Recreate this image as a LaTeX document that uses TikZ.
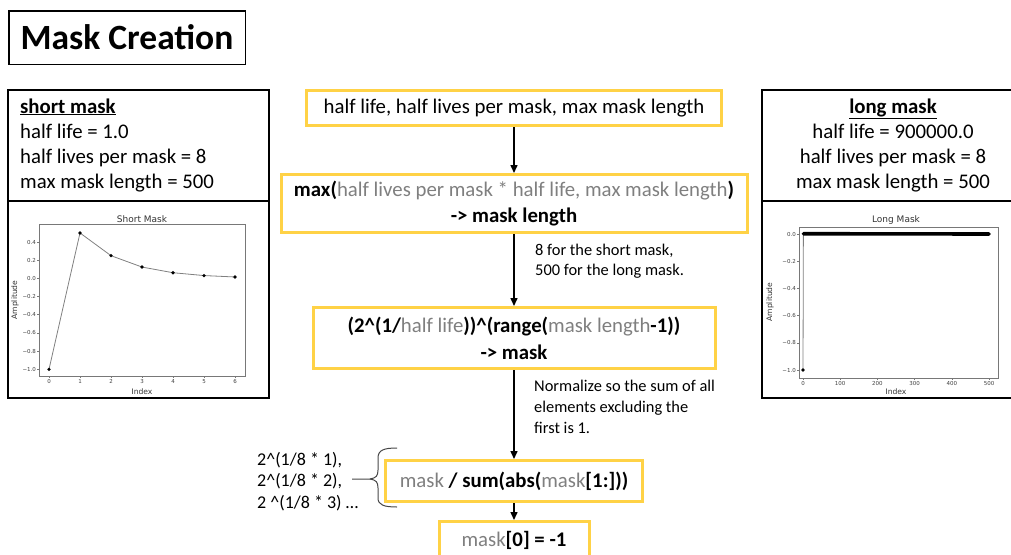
\documentclass[tikz,border=0pt]{standalone}
\usepackage{fontspec}
\setmainfont{Carlito}
\newfontfamily\plotfont{DejaVu Sans}
\usetikzlibrary{arrows.meta}

\definecolor{boxgold}{RGB}{255,210,70}
\definecolor{softgray}{RGB}{127,127,127}
\definecolor{axisgray}{RGB}{120,120,120}
\definecolor{bracegray}{RGB}{70,70,70}

\newcommand{\bodysize}{\fontsize{20.8}{25}\selectfont}
\newcommand{\notesize}{\fontsize{16.4}{20}\selectfont}
\newcommand{\bracesize}{\fontsize{18}{21}\selectfont}
\newcommand{\sg}[1]{{\color{softgray}\mdseries #1}}

\begin{document}
\begin{tikzpicture}[x=1pt,y=-1pt,
  goldbox/.style={draw=boxgold, line width=3pt, inner sep=0pt, align=center, font=\bodysize},
  blackframe/.style={draw=black, line width=1.5pt},
  flowarrow/.style={draw=black, line width=1.5pt, -{Triangle[length=8pt,width=7pt]}},
  notetext/.style={anchor=base west, inner sep=0pt, font=\notesize},
  paramline/.style={inner sep=0pt, font=\bodysize},
  axisline/.style={draw=axisgray, line width=0.6pt},
  ticklabel/.style={inner sep=0pt, text=black!75, font=\plotfont\fontsize{5.5}{6}\selectfont},
  axislabel/.style={inner sep=0pt, text=black!80, font=\plotfont\fontsize{7.6}{8}\selectfont},
  plottitle/.style={inner sep=0pt, text=black!80, font=\plotfont\fontsize{9}{10}\selectfont},
  dataline/.style={draw=gray, line width=0.8pt}
]
\useasboundingbox (0,0) rectangle (1011,554);
\clip (0,0) rectangle (1011,554);

% title
\node[blackframe, inner sep=0pt, minimum width=236.5pt, minimum height=53.5pt,
      font=\fontsize{35.5}{40}\selectfont\bfseries] (title) at (127,37.5) {Mask Creation};

% ---------- short mask panel ----------
\draw[blackframe] (8,90) rectangle (269,201);
\draw[blackframe] (8,201) rectangle (269,398);
\node[paramline, anchor=base west] (s0) at (20,113) {\textbf{\underline{short mask}}};
\node[paramline, anchor=base west] (s1) at (20,138) {half life = 1.0};
\node[paramline, anchor=base west] (s2) at (20,163) {half lives per mask = 8};
\node[paramline, anchor=base west] (s3) at (20,188) {max mask length = 500};

\node[plottitle, anchor=south] (stitle) at (142,222.5) {Short Mask};
\node[axislabel, rotate=90] (sylab) at (15,300) {Amplitude};
\node[axislabel] (sxlab) at (142,391.5) {Index};
\begin{scope}[shift={(49,278.4)}, x=31pt, y=90.9pt]
  \draw[axisline] (-0.32,-1.074) rectangle (6.32,0.598);
  \foreach \v/\l [count=\k] in {0.4/0.4,0.2/0.2,0.0/0.0,-0.2/−0.2,-0.4/−0.4,-0.6/−0.6,-0.8/−0.8,-1.0/−1.0} {
    \draw[axisline] (-0.32,\v) -- ++(-2pt,0);
    \node[ticklabel, anchor=east] (sy\k) at ([xshift=-3pt]-0.32,\v) {\l};
  }
  \foreach \i in {0,...,6} {
    \draw[axisline] (\i,-1.074) -- ++(0,-2pt);
    \node[ticklabel, anchor=north] (sx\i) at ([yshift=-3pt]\i,-1.074) {\i};
  }
  \draw[dataline] (0,-1) -- (1,0.5) -- (2,0.25) -- (3,0.125) -- (4,0.0625) -- (5,0.03125) -- (6,0.015625);
  \foreach \p in {(0,-1),(1,0.5),(2,0.25),(3,0.125),(4,0.0625),(5,0.03125),(6,0.015625)}
    \fill[black] \p circle (1.8pt);
\end{scope}

% ---------- long mask panel ----------
\draw[blackframe] (762,90) rectangle (1030,201);
\draw[blackframe] (762,201) rectangle (1030,398);
\node[paramline, anchor=base] (l0) at (893,113) {\textbf{\underline{long mask}}};
\node[paramline, anchor=base] (l1) at (893,138) {half life = 900000.0};
\node[paramline, anchor=base] (l2) at (893,163) {half lives per mask = 8};
\node[paramline, anchor=base] (l3) at (893,188) {max mask length = 500};

\node[plottitle, anchor=south] (ltitle) at (896,225) {Long Mask};
\node[axislabel, rotate=90] (lylab) at (770,302) {Amplitude};
\node[axislabel] (lxlab) at (896,392) {Index};
\begin{scope}[shift={(803,234)}, x=0.372pt, y=136pt]
  \draw[axisline] (-10.75,-1.0588) rectangle (524.2,0.0515);
  \foreach \v/\l [count=\k] in {0.0/0.0,-0.2/−0.2,-0.4/−0.4,-0.6/−0.6,-0.8/−0.8,-1.0/−1.0} {
    \draw[axisline] (-10.75,\v) -- ++(-2pt,0);
    \node[ticklabel, anchor=east] (ly\k) at ([xshift=-3pt]-10.75,\v) {\l};
  }
  \foreach \i in {0,100,...,500} {
    \draw[axisline] (\i,-1.0588) -- ++(0,-2pt);
    \node[ticklabel, anchor=north] (lx\i) at ([yshift=-3pt]\i,-1.0588) {\i};
  }
  \draw[dataline] (0,-1) -- (1,0.002);
  \draw[black, line width=3.6pt, line cap=round] (1,0.002) -- (500,0);
  \fill[black] (0,-1) circle (1.8pt);
\end{scope}

% ---------- central flow ----------
\node[goldbox, minimum width=415pt, minimum height=35pt] (b1) at (514,108)
  {half life, half lives per mask, max mask length};
\node[goldbox, minimum width=466pt, minimum height=58pt] (b2) at (514,203.5)
  {\textbf{max(\sg{half lives per mask * half life, max mask length})}\\[1pt]
   \textbf{-> mask length}};
\node[goldbox, minimum width=402pt, minimum height=61pt] (b3) at (514,338)
  {\textbf{(2\textasciicircum(1/\sg{half life}))\textasciicircum(range(\sg{mask length}-1))}\\[2pt]
   \textbf{-> mask}};
\node[goldbox, minimum width=257pt, minimum height=41pt] (b4) at (514,481)
  {\sg{mask} \textbf{/ sum(abs(\sg{mask}[1:]))}};
\node[goldbox, minimum width=150pt, minimum height=37pt] (b5) at (514,540)
  {\sg{mask}\textbf{[0] = -1}};

\draw[flowarrow] (b1.south) -- (b2.north);
\draw[flowarrow] (b2.south) -- (b3.north);
\draw[flowarrow] (b3.south) -- (b4.north);
\draw[flowarrow] (b4.south) -- (b5.north);

% side notes
\node[notetext] (n1) at (535,255.5) {8 for the short mask,};
\node[notetext] (n2) at (535,275.5) {500 for the long mask.};
\node[notetext] (n3) at (534,391) {Normalize so the sum of all};
\node[notetext] (n4) at (534,412) {elements excluding the};
\node[notetext] (n5) at (534,433) {first is 1.};

% exponent list with its brace
\node[anchor=base west, inner sep=0pt, font=\bracesize] (e1) at (257,465) {2\textasciicircum(1/8 * 1),};
\node[anchor=base west, inner sep=0pt, font=\bracesize] (e2) at (257,486.5) {2\textasciicircum(1/8 * 2),};
\node[anchor=base west, inner sep=0pt, font=\bracesize] (e3) at (257,508) {2 \textasciicircum(1/8 * 3) …};
\draw[bracegray, line width=1pt]
  (397,448) .. controls (384,448) and (378,450) .. (378,458) -- (378,470)
  .. controls (378,476) and (376,478) .. (370,479) -- (352,479);
\draw[bracegray, line width=1pt]
  (370,479) .. controls (376,480) and (378,482) .. (378,488) -- (378,498)
  .. controls (378,505) and (384,507) .. (397,507);
\end{tikzpicture}
\end{document}
